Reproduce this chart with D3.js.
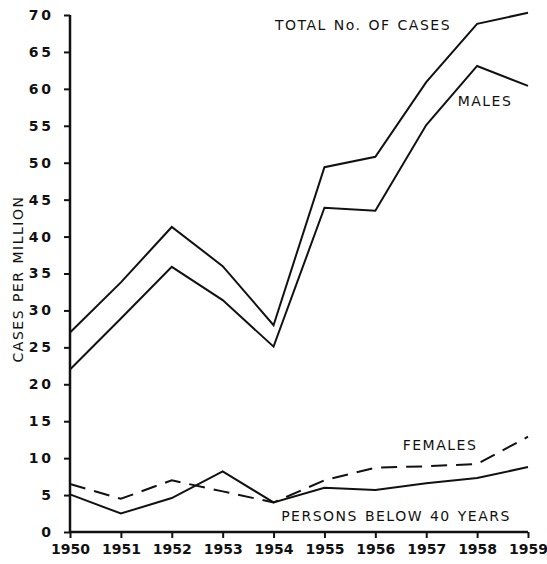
<!DOCTYPE html>
<html>
<head>
<meta charset="utf-8">
<script src="https://cdn.jsdelivr.net/npm/d3@7"></script>
<style>
	body { margin: 0; background: #fff; }
	text { font-family: "DejaVu Sans", sans-serif; fill: #111; }
</style>
</head>
<body>
<svg width="547" height="564"></svg>
<script>
var years = [1950, 1951, 1952, 1953, 1954, 1955, 1956, 1957, 1958, 1959];
var total = [27, 33.8, 41.3, 36, 28, 49.4, 50.8, 60.9, 68.8, 70.3];
var males = [22, 28.9, 35.9, 31.4, 25.1, 43.9, 43.5, 55.1, 63.1, 60.4];
var females = [6.5, 4.5, 7.0, 5.5, 4.0, 7.0, 8.7, 8.9, 9.2, 12.9];
var below40 = [5.1, 2.5, 4.6, 8.2, 4.0, 6.0, 5.7, 6.6, 7.3, 8.8];
var yTicks = [0, 5, 10, 15, 20, 25, 30, 35, 40, 45, 50, 55, 60, 65, 70];

var svg = d3.select("svg");
var margin = {left: 70, right: 19, top: 15, bottom: 32};
var width = +svg.attr("width"), height = +svg.attr("height");

var x = d3.scaleLinear().domain([1950, 1959]).range([margin.left, width - margin.right]);
var y = d3.scaleLinear().domain([0, 70]).range([height - margin.bottom, margin.top]);

// axes
var yAxis = svg.append("g")
	.attr("transform", "translate(" + margin.left + ",0)")
	.call(d3.axisLeft(y).tickValues(yTicks).tickSize(6).tickPadding(13)
		.tickFormat(function(d) { return d < 10 ? d : String(d).split("").join("\u2009"); }));
var xAxis = svg.append("g")
	.attr("transform", "translate(0," + y(0) + ")")
	.call(d3.axisBottom(x).tickValues(years).tickSize(6).tickPadding(6).tickFormat(d3.format("d")));

[yAxis, xAxis].forEach(function(a) {
	a.select(".domain").attr("stroke", "#111").attr("stroke-width", 2.5);
	a.selectAll(".tick line").attr("stroke", "#111").attr("stroke-width", 2);
	a.selectAll("text").style("font-size", "14px").style("font-weight", "bold").attr("fill", "#111");
});
yAxis.selectAll(".domain").attr("d", "M0," + y(70) + "V" + y(0));
xAxis.selectAll(".domain").attr("d", "M" + x(1950) + ",0H" + x(1959));

var line = d3.line()
	.x(function(d, i) { return x(years[i]); })
	.y(function(d) { return y(d); });

[total, males, below40].forEach(function(s) {
	svg.append("path").attr("d", line(s))
		.attr("fill", "none").attr("stroke", "#111").attr("stroke-width", 2);
});
svg.append("path").attr("d", line(females))
	.attr("fill", "none").attr("stroke", "#111").attr("stroke-width", 2)
	.attr("stroke-dasharray", "16,9");

// labels
function label(txt, px, py) {
	svg.append("text").attr("x", px).attr("y", py)
		.attr("text-anchor", "middle").attr("dy", "0.35em")
		.style("font-size", "14px").style("letter-spacing", "1.5px")
		.style("word-spacing", "1px")
		.text(txt);
}
label("TOTAL No. OF CASES", 363, 25);
label("MALES", 485, 101);
label("FEMALES", 440, 445);
label("PERSONS BELOW 40 YEARS", 396, 516);

svg.append("text")
	.attr("transform", "translate(18,279) rotate(-90)")
	.attr("text-anchor", "middle").attr("dy", "0.35em")
	.style("font-size", "14px").style("letter-spacing", "1.5px")
	.style("word-spacing", "1px")
	.text("CASES PER MILLION");
</script>
</body>
</html>
